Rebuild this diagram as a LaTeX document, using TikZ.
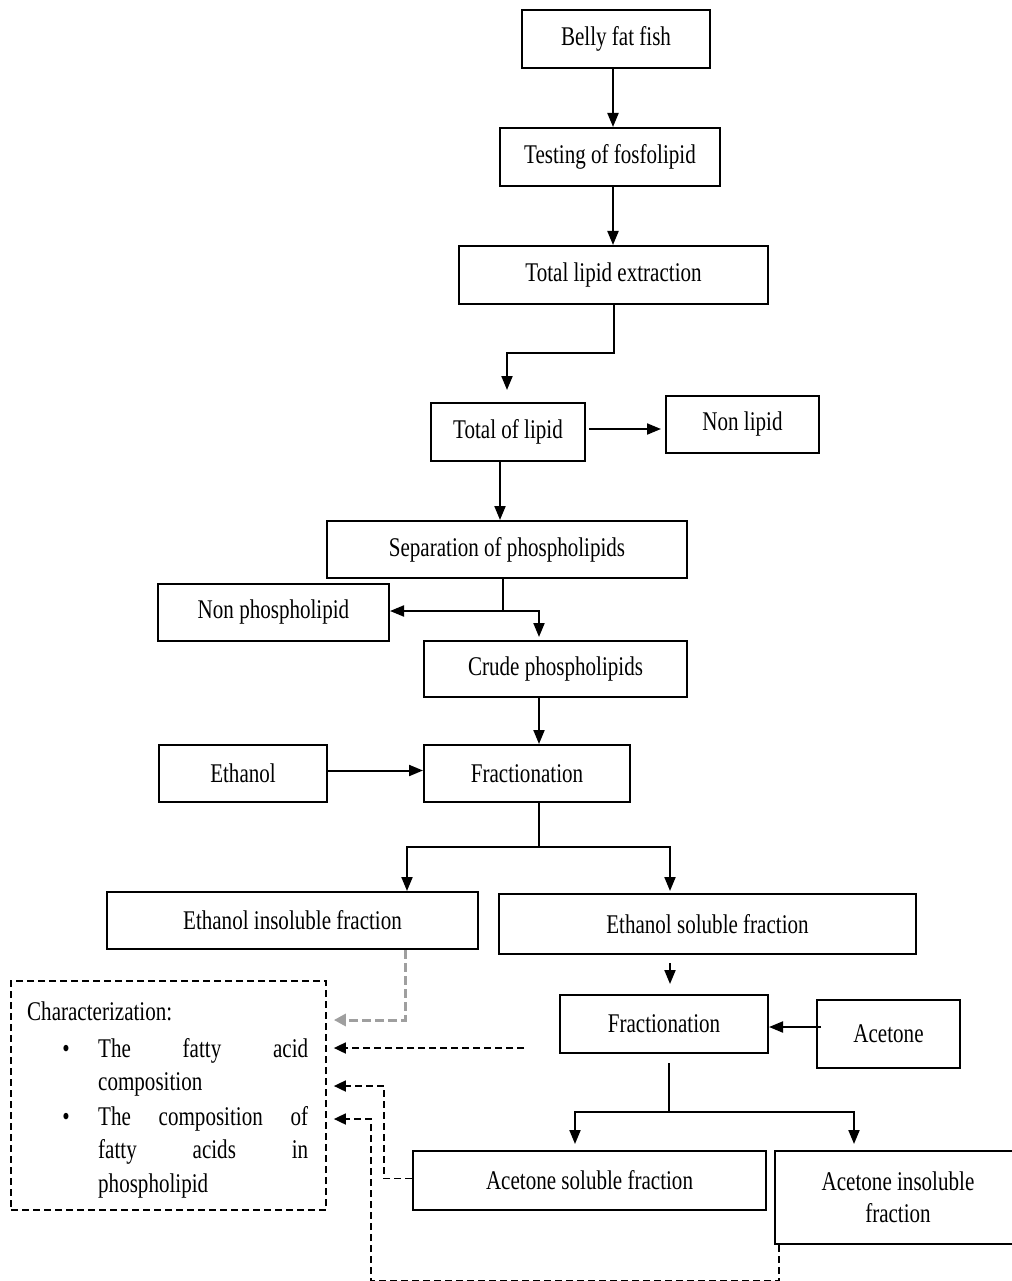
\documentclass[tikz,border=0pt]{standalone}
\usepackage{fontspec}
\setmainfont{Liberation Serif}[FakeStretch=0.78]
\usetikzlibrary{arrows.meta,calc}
\tikzset{
  box/.style={draw, line width=2pt, inner sep=2pt, align=center, font=\fontsize{27}{32}\selectfont},
  ln/.style={line width=2pt},
  arr/.style={line width=2pt, -{Triangle[length=14pt,width=11pt]}},
  darr/.style={line width=1.7pt, dash pattern=on 7pt off 4pt, -{Triangle[length=12pt,width=11pt]}},
  garr/.style={line width=3pt, gray!75, dash pattern=on 9pt off 4pt, -{Triangle[length=12pt,width=12pt]}},
  txt/.style={font=\fontsize{27}{32}\selectfont, inner sep=0pt},
}
\begin{document}
\begin{tikzpicture}[x=1pt,y=-1pt]
\useasboundingbox (0,0) rectangle (1011,1281);
% boxes
\node[box, minimum width=188pt, minimum height=58pt] (n1) at (616,39) {Belly fat fish};
\node[box, minimum width=220pt, minimum height=58pt] (n2) at (610,157) {Testing of fosfolipid};
\node[box, minimum width=309pt, minimum height=58pt] (n3) at (613.5,275) {Total lipid extraction};
\node[box, minimum width=154pt, minimum height=58pt] (n4) at (508,432) {Total of lipid};
\node[box, minimum width=153pt, minimum height=57pt] (n5) at (742.5,424.5) {Non lipid};
\node[box, minimum width=360pt, minimum height=57pt] (n6) at (507,549.5) {Separation of phospholipids};
\node[box, minimum width=231pt, minimum height=57pt] (n7) at (273.5,612.5) {Non phospholipid};
\node[box, minimum width=263pt, minimum height=56pt] (n8) at (555.5,669) {Crude phospholipids};
\node[box, minimum width=206pt, minimum height=57pt] (n9) at (527,773.5) {Fractionation};
\node[box, minimum width=168pt, minimum height=57pt] (n10) at (243,773.5) {Ethanol};
\node[box, minimum width=371pt, minimum height=57pt] (n11) at (292.5,920.5) {Ethanol insoluble fraction};
\node[box, minimum width=417pt, minimum height=60pt] (n12) at (707.5,924) {Ethanol soluble fraction};
\node[box, minimum width=208pt, minimum height=58pt] (n13) at (664,1024) {Fractionation};
\node[box, minimum width=143pt, minimum height=68pt] (n14) at (888.5,1034) {Acetone};
\node[box, minimum width=353pt, minimum height=59pt] (n15) at (589.5,1180.5) {Acetone soluble fraction};
\node[box, minimum width=246pt, minimum height=93pt] (n16) at (898,1197.5) {Acetone insoluble\\fraction};
% characterization box
\node[draw, line width=1.7pt, dash pattern=on 7pt off 4pt, minimum width=315pt, minimum height=229pt, inner sep=0pt] (ch) at (168.5,1095.5) {};
\node[txt, anchor=base west] (t0) at (27,1020) {Characterization:};
\node[txt, anchor=base] (b1) at (66,1057) {\textbullet};
\node[txt, anchor=base west, text width=210pt] (t1) at (98,1057) {The\hfill fatty\hfill acid};
\node[txt, anchor=base west] (t2) at (98,1090) {composition};
\node[txt, anchor=base] (b2) at (66,1125) {\textbullet};
\node[txt, anchor=base west, text width=210pt] (t3) at (98,1125) {The\hfill composition\hfill of};
\node[txt, anchor=base west, text width=210pt] (t4) at (98,1158) {fatty\hfill acids\hfill in};
\node[txt, anchor=base west] (t5) at (98,1192) {phospholipid};
% connectors
\draw[arr] ([xshift=-3pt]n1.south) -- ([xshift=-3pt]n1.south |- n2.north);
\draw[arr] ([xshift=3pt]n2.south) -- ([xshift=3pt]n2.south |- n3.north);
\draw[arr, shorten >=12pt] (n3.south) -- ++(0,48) -| ([xshift=-1pt]n4.north);
\coordinate (a1) at ([yshift=3pt]n4.east);
\draw[arr, shorten <=3pt, shorten >=4pt] (a1) -- (a1 -| n5.west);
\draw[arr] ([xshift=-8pt]n4.south) -- ([xshift=-8pt]n4.south |- n6.north);
\draw[ln] ([xshift=-4pt]n6.south) -- ++(0,32) coordinate (s1);
\draw[arr] (s1) -- (s1 -| n7.east);
\draw[arr, shorten >=3pt] (s1) -| ([xshift=-16.5pt]n8.north);
\draw[arr] ([xshift=-16.5pt]n8.south) -- ([xshift=-16.5pt]n8.south |- n9.north);
\coordinate (a2) at ([yshift=3pt]n10.east);
\draw[arr] (a2) -- (a2 -| n9.west);
\draw[ln] ([xshift=12pt]n9.south) -- ++(0,44) coordinate (s2);
\draw[arr] (s2) -| ([xshift=114.5pt]n11.north);
\draw[arr, shorten >=2pt] (s2) -| ([xshift=-37.5pt]n12.north);
\draw[arr, shorten <=8pt, shorten >=10pt] ([xshift=-37.5pt]n12.south) -- ([xshift=-37.5pt]n12.south |- n13.north);
\coordinate (a3) at ([yshift=7pt]n14.west);
\draw[arr] ([xshift=5pt]a3) -- (a3 -| n13.east);
\draw[ln, shorten <=9pt] ([xshift=5pt]n13.south) -- ++(0,58) coordinate (s3);
\draw[ln] (s3) -- ([xshift=-14.5pt]n15.north |- s3);
\draw[arr, shorten >=6pt] (s3) -| ([xshift=-14.5pt]n15.north);
\draw[arr, shorten >=6pt] (s3) -| ([xshift=-44pt]n16.north);
% dashed connectors
\draw[garr, shorten >=7pt] ([xshift=112.5pt]n11.south) |- ([yshift=75.5pt]ch.east);
\coordinate (f1) at (524,1048);
\draw[darr, shorten >=7pt] (f1) -- (f1 -| ch.east);
\draw[darr, shorten >=7pt] ([yshift=2pt]n15.west) -- ++(-28,0) |- ([yshift=9.5pt]ch.east);
\draw[darr, shorten >=7pt] ([xshift=5pt]n16.south west) -- ++(0,36) -- ++(-408,0) |- ([yshift=-23.5pt]ch.east);
\end{tikzpicture}
\end{document}
